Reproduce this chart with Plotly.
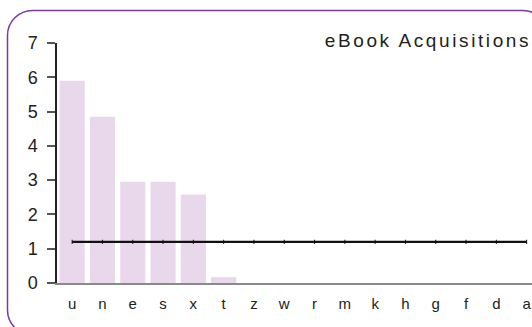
import plotly.graph_objects as go

# Category labels along the x axis
categories = ["u", "n", "e", "s", "x", "t", "z", "w", "r", "m", "k", "h", "g", "f", "d", "a"]
# eBook acquisitions per category (bars)
acquisitions = [5.9, 4.85, 2.95, 2.95, 2.58, 0.17, 0, 0, 0, 0, 0, 0, 0, 0, 0, 0]
# Reference level drawn as a flat line across all categories
benchmark = [1.2] * len(categories)
y_ticks = [0, 1, 2, 3, 4, 5, 6, 7]

W, H = 532, 327
L, R, T, B = 57, 0, 43, 44
PW, PH = W - L - R, H - T - B


def px(x):
    return (x - L) / PW


def py(y):
    return (H - B - y) / PH


# Rounded frame around the chart (pixel geometry converted to paper units)
x0, y0, x1, y1, r = 7.5, 10.5, 548, 335, 25
k = 0.5523 * r
frame = (
    f"M {px(x0)},{py(y0 + r)} "
    f"C {px(x0)},{py(y0 + r - k)} {px(x0 + r - k)},{py(y0)} {px(x0 + r)},{py(y0)} "
    f"L {px(x1 - r)},{py(y0)} "
    f"C {px(x1 - r + k)},{py(y0)} {px(x1)},{py(y0 + r - k)} {px(x1)},{py(y0 + r)} "
    f"L {px(x1)},{py(y1 - r)} "
    f"C {px(x1)},{py(y1 - r + k)} {px(x1 - r + k)},{py(y1)} {px(x1 - r)},{py(y1)} "
    f"L {px(x0 + r)},{py(y1)} "
    f"C {px(x0 + r - k)},{py(y1)} {px(x0)},{py(y1 - r + k)} {px(x0)},{py(y1 - r)} Z"
)

font_family = "Liberation Sans, Arial, sans-serif"

fig = go.Figure()
fig.add_trace(go.Bar(
    x=categories, y=acquisitions,
    marker=dict(color="#e9d8eb", line=dict(width=0)),
    hoverinfo="x+y", showlegend=False,
))
fig.add_trace(go.Scatter(
    x=categories, y=benchmark, mode="lines+markers",
    line=dict(color="#111111", width=2.2),
    marker=dict(symbol="line-ns", size=3, line=dict(color="#111111", width=1)),
    showlegend=False,
))

fig.update_layout(
    width=W, height=H,
    margin=dict(l=L, r=R, t=T, b=B, pad=0),
    paper_bgcolor="white", plot_bgcolor="white",
    bargap=0.17,
    font=dict(family=font_family, color="#222222"),
    title=dict(
        text="eBook Acquisitions",
        x=531 / W, xanchor="right", xref="paper",
        y=1 - 40 / H, yanchor="middle",
        font=dict(size=19, color="#222222", family=font_family),
    ),
    shapes=[dict(
        type="path", path=frame, xref="paper", yref="paper",
        line=dict(color="#7a3aa6", width=1.5), fillcolor="rgba(0,0,0,0)",
        layer="above",
    )],
    xaxis=dict(
        type="category",
        range=[-0.5, -0.5 + PW / 30.3],
        showgrid=False, zeroline=False,
        showline=True, linecolor="#8a8a8a", linewidth=2,
        ticks="", ticklabelstandoff=6,
        tickfont=dict(size=15, color="#222222"),
    ),
    yaxis=dict(
        range=[0, 7], tickvals=y_ticks,
        showgrid=False, zeroline=False,
        showline=True, linecolor="#222222", linewidth=1.5,
        ticks="outside", ticklen=8, tickwidth=1.5, tickcolor="#555555",
        ticklabelstandoff=6,
        tickfont=dict(size=18, color="#222222"),
    ),
)

# Wider tracking for the chart title
spacing_js = (
    "document.querySelectorAll('.gtitle').forEach(function(t){"
    "t.style.letterSpacing='2.6px';});"
)

fig.write_html("out.html", post_script=spacing_js)
